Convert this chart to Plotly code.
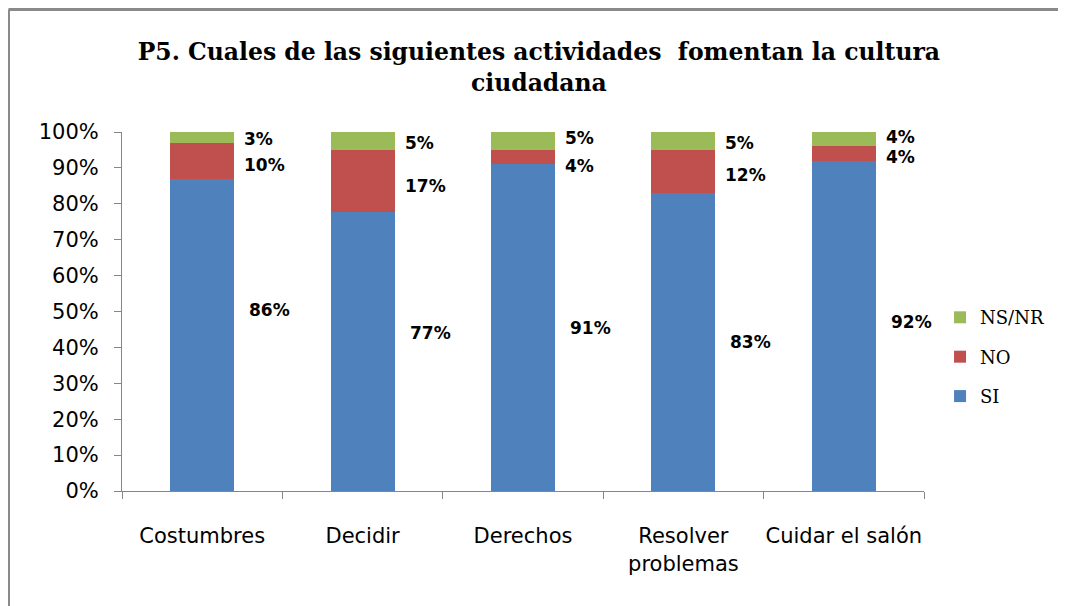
import plotly.graph_objects as go

categories = ["Costumbres", "Decidir", "Derechos", "Resolver<br>problemas", "Cuidar el salón"]
si = [86, 77, 91, 83, 92]
no = [10, 17, 4, 12, 4]
nsnr = [3, 5, 5, 5, 4]
series_names = ["SI", "NO", "NS/NR"]
colors = ["#4F81BD", "#C0504D", "#9BBB59"]
y_ticks = list(range(0, 101, 10))

# style tweaks for label placement (pixels, positive = up)
label_lift = [
    [25, 18, 0, 0, 4],     # SI
    [-4, -5, -9, -4, -3],  # NO
    [-2, -2, 3, -2, 2],    # NS/NR
]

fig = go.Figure()
series = [si, no, nsnr]
for rank, (name, vals, col) in enumerate(zip(series_names, series, colors)):
    fig.add_trace(go.Bar(
        x=categories, y=vals, name=name, marker=dict(color=col, line=dict(width=0)),
        legendgroup=name, legendrank=3 - rank, hoverinfo="skip",
    ))

annotations = []
for i, cat in enumerate(categories):
    total = si[i] + no[i] + nsnr[i]
    base = 0.0
    for k, vals in enumerate(series):
        v = vals[i] / total * 100
        mid = base + v / 2
        base += v
        annotations.append(dict(
            x=cat, y=mid, xref="x", yref="y", text="<b>%d%%</b>" % vals[i],
            showarrow=False, xanchor="left", yanchor="middle",
            xshift=45 if k == 0 else 40,
            yshift=label_lift[k][i],
            font=dict(family="DejaVu Sans", size=17, color="black"),
        ))

gray = "#868686"
L, R, T, B = 114, 150, 124, 123
pw, ph = 1066 - L - R, 606 - T - B
bx_l = (0.5 - L) / pw
by_t = 1 + (T - 1.5) / ph
shapes = [
    dict(type="line", xref="paper", yref="paper", x0=bx_l, x1=bx_l, y0=-0.5, y1=by_t,
         line=dict(color="#8a8a8a", width=3)),
    dict(type="line", xref="paper", yref="paper", x0=bx_l, x1=1.3, y0=by_t, y1=by_t,
         line=dict(color="#8a8a8a", width=3)),
]

fig.update_layout(
    width=1066, height=606,
    margin=dict(l=L, r=R, t=T, b=B, autoexpand=False),
    paper_bgcolor="white", plot_bgcolor="white",
    barmode="stack", barnorm="percent", bargap=0.6,
    title=dict(
        text="<b>P5. Cuales de las siguientes actividades \u00a0fomentan la cultura<br>ciudadana</b>",
        x=0.498, xanchor="center", y=0.914, yanchor="middle",
        font=dict(family="DejaVu Serif", size=23.5, color="black"),
    ),
    xaxis=dict(
        range=[-0.5, len(categories) - 0.5],
        showline=True, linecolor=gray, linewidth=1, ticks="outside", tickson="boundaries",
        ticklen=7, tickcolor=gray, showgrid=False, tickangle=0, automargin=False,
        tickfont=dict(family="DejaVu Sans", size=21, color="black"),
        ticklabelstandoff=26,
    ),
    yaxis=dict(
        range=[0, 100], tickvals=y_ticks, ticktext=["%d%%" % t for t in y_ticks],
        showline=True, linecolor=gray, linewidth=1, ticks="outside", ticklen=7,
        tickcolor=gray, showgrid=False, zeroline=False, automargin=False,
        tickfont=dict(family="DejaVu Sans", size=21, color="black"),
        ticklabelstandoff=11,
    ),
    legend=dict(
        x=1.02, xanchor="left", y=0.373, yanchor="middle",
        traceorder="grouped", tracegroupgap=13,
        font=dict(family="DejaVu Serif", size=18, color="black"),
        bgcolor="rgba(0,0,0,0)",
    ),
    annotations=annotations,
    shapes=shapes,
)

fig.write_html("out.html")
